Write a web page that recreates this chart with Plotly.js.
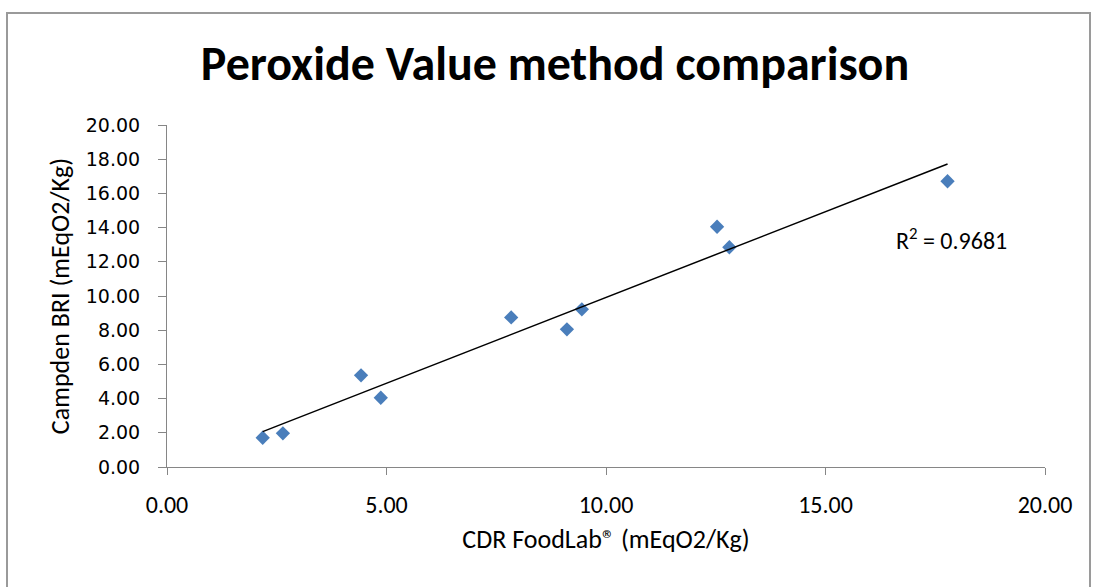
<!DOCTYPE html>
<html>
<head>
<meta charset="utf-8">
<script src="https://cdn.plot.ly/plotly-3.0.1.min.js"></script>
<style>html,body{margin:0;padding:0;background:#fff;}#chart{width:1094px;height:587px;}</style>
</head>
<body>
<div id="chart"></div>
<script>
const foodLab = [2.18, 2.64, 4.42, 4.87, 7.84, 9.11, 9.45, 12.53, 12.81, 17.78];
const campden = [1.71, 1.97, 5.36, 4.05, 8.75, 8.05, 9.22, 14.05, 12.85, 16.71];
const xTicks = [0, 5, 10, 15, 20];
const yTicks = [0, 2, 4, 6, 8, 10, 12, 14, 16, 18, 20];
const titleText = 'Peroxide Value method comparison';
const xTitle = 'CDR FoodLab\u00AE (mEqO2/Kg)';
const yTitle = 'Campden BRI (mEqO2/Kg)';
const r2Text = 'R<sup>2</sup> = 0.9681';

// linear trendline from data
const n = foodLab.length;
const mx = foodLab.reduce((a,b)=>a+b,0)/n;
const my = campden.reduce((a,b)=>a+b,0)/n;
let sxy = 0, sxx = 0;
for (let i=0;i<n;i++){ sxy += (foodLab[i]-mx)*(campden[i]-my); sxx += (foodLab[i]-mx)**2; }
const slope = sxy/sxx, icpt = my - slope*mx;
const xmin = Math.min(...foodLab), xmax = Math.max(...foodLab);
const trendX = [xmin, xmax];
const trendY = trendX.map(v => icpt + slope*v);

const calFont = 'Carlito, "Open Sans", "Liberation Sans", sans-serif';

const data = [
  {x: foodLab, y: campden, type: 'scatter', mode: 'markers',
   marker: {symbol: 'diamond', size: 11, color: '#4A7EBB'}, hoverinfo: 'x+y', showlegend: false},
  {x: trendX, y: trendY, type: 'scatter', mode: 'lines',
   line: {color: '#000000', width: 1.5}, showlegend: false, hoverinfo: 'skip'}
];

const layout = {
  width: 1094, height: 587,
  paper_bgcolor: '#ffffff', plot_bgcolor: '#ffffff',
  margin: {l: 167, r: 49, t: 125, b: 120},
  title: {text: '<b>' + titleText + '</b>', x: 555/1094, xref: 'container', y: 1 - 63/587, yref: 'container', yanchor: 'middle', xanchor: 'center',
          font: {family: calFont, size: 48, color: '#000000'}},
  xaxis: {range: [0, 20], tickvals: xTicks, tickformat: '.2f', showline: true, linecolor: '#868686', linewidth: 1,
          ticks: 'outside', ticklen: 7, tickcolor: '#868686', showgrid: false, zeroline: false,
          tickfont: {family: calFont, size: 24, color: '#000000'}, ticklabelstandoff: 9,
          title: {text: xTitle, font: {family: calFont, size: 26, color: '#000000'}, standoff: 12}},
  yaxis: {range: [0, 20], tickvals: yTicks, tickformat: '.2f', showline: true, linecolor: '#868686', linewidth: 1,
          ticks: 'outside', ticklen: 8, tickcolor: '#868686', showgrid: false, zeroline: false,
          tickfont: {family: '"DejaVu Sans", Verdana, sans-serif', size: 19, color: '#000000'}, ticklabelstandoff: 14,
          title: {text: yTitle, font: {family: calFont, size: 26, color: '#000000'}, standoff: 8}},
  annotations: [{x: (951-167)/878, y: (467-239)/342, xref: 'paper', yref: 'paper', xanchor: 'center', yanchor: 'middle',
                 text: r2Text, showarrow: false,
                 font: {family: calFont, size: 24, color: '#000000'}}],
  shapes: [{type: 'rect', xref: 'paper', yref: 'paper',
            x0: (7-167)/878, x1: (1090-167)/878, y0: -(600-467)/342, y1: (467-13)/342,
            line: {color: '#9A9A9A', width: 2}, fillcolor: 'rgba(0,0,0,0)', layer: 'below'}]
};

Plotly.newPlot('chart', data, layout, {displayModeBar: false, staticPlot: true});
</script>
</body>
</html>
